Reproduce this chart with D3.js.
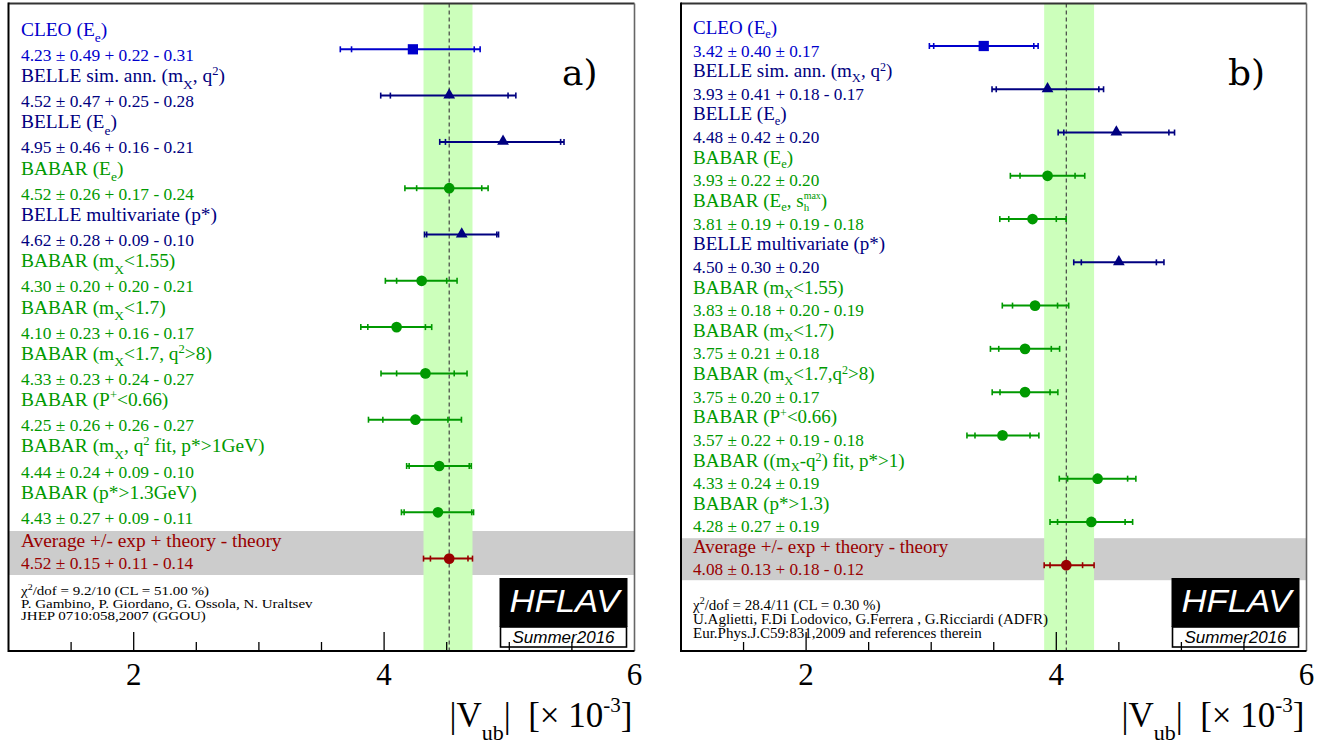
<!DOCTYPE html>
<html>
<head>
<meta charset="utf-8">
<script src="https://cdn.jsdelivr.net/npm/d3@7"></script>
<style>
  html, body { margin: 0; padding: 0; background: #fff; }
  svg { display: block; }
  text { white-space: pre; }
</style>
</head>
<body>
<svg id="chart" width="1328" height="745"></svg>
<script>
// ---------------- DATA ----------------
// Panel a) (GGOU)
const namesA = [
  "CLEO (E_{e})",
  "BELLE sim. ann. (m_{X}, q^{2})",
  "BELLE (E_{e})",
  "BABAR (E_{e})",
  "BELLE multivariate (p*)",
  "BABAR (m_{X}<1.55)",
  "BABAR (m_{X}<1.7)",
  "BABAR (m_{X}<1.7, q^{2}>8)",
  "BABAR (P^{+}<0.66)",
  "BABAR (m_{X}, q^{2} fit, p*>1GeV)",
  "BABAR (p*>1.3GeV)"
];
const expA     = ["CLEO","BELLE","BELLE","BABAR","BELLE","BABAR","BABAR","BABAR","BABAR","BABAR","BABAR"];
const valueA   = [4.23, 4.52, 4.95, 4.52, 4.62, 4.30, 4.10, 4.33, 4.25, 4.44, 4.43];
const statA    = [0.49, 0.47, 0.46, 0.26, 0.28, 0.20, 0.23, 0.23, 0.26, 0.24, 0.27];
const sysPlusA = [0.22, 0.25, 0.16, 0.17, 0.09, 0.20, 0.16, 0.24, 0.26, 0.09, 0.09];
const sysMinA  = [0.31, 0.28, 0.21, 0.24, 0.10, 0.21, 0.17, 0.27, 0.27, 0.10, 0.11];
const avgA = [4.52, 0.15, 0.11, 0.14];   // value, exp, +theory, -theory
const footerA = ["χ^{2}/dof = 9.2/10 (CL = 51.00 %)",
                 "P. Gambino, P. Giordano, G. Ossola, N. Uraltsev",
                 "JHEP 0710:058,2007 (GGOU)"];

// Panel b) (ADFR)
const namesB = [
  "CLEO (E_{e})",
  "BELLE sim. ann. (m_{X}, q^{2})",
  "BELLE (E_{e})",
  "BABAR (E_{e})",
  "BABAR (E_{e}, s_{h}^{max})",
  "BELLE multivariate (p*)",
  "BABAR (m_{X}<1.55)",
  "BABAR (m_{X}<1.7)",
  "BABAR (m_{X}<1.7,q^{2}>8)",
  "BABAR (P^{+}<0.66)",
  "BABAR ((m_{X}-q^{2}) fit, p*>1)",
  "BABAR (p*>1.3)"
];
const expB     = ["CLEO","BELLE","BELLE","BABAR","BABAR","BELLE","BABAR","BABAR","BABAR","BABAR","BABAR","BABAR"];
const valueB   = [3.42, 3.93, 4.48, 3.93, 3.81, 4.50, 3.83, 3.75, 3.75, 3.57, 4.33, 4.28];
const statB    = [0.40, 0.41, 0.42, 0.22, 0.19, 0.30, 0.18, 0.21, 0.20, 0.22, 0.24, 0.27];
const sysPlusB = [0.17, 0.18, 0.20, 0.20, 0.19, 0.20, 0.20, 0.18, 0.17, 0.19, 0.19, 0.19];
const sysMinB  = [0.17, 0.17, 0.20, 0.20, 0.18, 0.20, 0.19, 0.18, 0.17, 0.18, 0.19, 0.19];
const avgB = [4.08, 0.13, 0.18, 0.12];
const footerB = ["χ^{2}/dof = 28.4/11 (CL = 0.30 %)",
                 "U.Aglietti, F.Di Lodovico, G.Ferrera , G.Ricciardi (ADFR)",
                 "Eur.Phys.J.C59:831,2009 and references therein"];

const xDomain = [1, 6];
const tickLabels = ["2", "4", "6"];
const avgLabel = "Average +/- exp + theory - theory";
const axisTitle = "|V_{ub}|  [× 10^{-3}]";

// ---------------- STYLE ----------------
const expColor = { CLEO: "#0000cc", BELLE: "#000080", BABAR: "#009900", AVG: "#990000" };
const expSymbol = { CLEO: d3.symbolSquare, BELLE: d3.symbolTriangle, BABAR: d3.symbolCircle, AVG: d3.symbolCircle };
const expSymSize = { CLEO: 105, BELLE: 60, BABAR: 90, AVG: 90 };
const SERIF = "'Liberation Serif', 'Times New Roman', serif";
const SANS = "'Liberation Sans', Arial, sans-serif";

const svg = d3.select("#chart");

// --- mini TeX-like rich text: _{..} subscript, ^{..} superscript ---
function parseRich(str) {
  const out = [];
  let i = 0, buf = "";
  while (i < str.length) {
    const c = str[i];
    if ((c === "_" || c === "^") && str[i + 1] === "{") {
      if (buf) { out.push({ t: "n", s: buf }); buf = ""; }
      const end = str.indexOf("}", i + 2);
      out.push({ t: c === "_" ? "sub" : "sup", s: str.slice(i + 2, end) });
      i = end + 1;
    } else { buf += c; i++; }
  }
  if (buf) out.push({ t: "n", s: buf });
  return out;
}
function richText(sel, str, opt) {
  const o = Object.assign({ subSize: 14, supSize: 13, subShift: 7, supShift: 7 }, opt || {});
  const toks = parseRich(str);
  // mark stacked sub+sup pairs
  toks.forEach((tk, k) => {
    if (tk.t === "sub" && toks[k + 1] && toks[k + 1].t === "sup") { tk.stack = true; toks[k + 1].stack = true; }
  });
  let cur = 0;
  let lastSub = null;
  toks.forEach((tk, k) => {
    let target = 0, size = null;
    if (tk.t === "sub") { target = o.subShift; size = tk.stack ? (o.stackSub || o.subSize) : o.subSize; }
    if (tk.t === "sup") {
      target = -(tk.stack ? (o.stackSupShift || o.supShift) : o.supShift);
      size = tk.stack ? (o.stackSup || o.supSize) : o.supSize;
    }
    const ts = sel.append("tspan").text(tk.s).attr("dy", target - cur);
    if (size) ts.attr("font-size", size);
    if (tk.t === "sup" && tk.stack && lastSub) {
      ts.attr("dx", -lastSub.node().getComputedTextLength());
    }
    lastSub = tk.t === "sub" ? ts : null;
    cur = target;
  });
  return sel;
}
function fmt(v) { return v.toFixed(2); }
function valueText(v, s, p, m) {
  return fmt(v) + " ± " + fmt(s) + (p === m ? " ± " + fmt(p) : " + " + fmt(p) + " - " + fmt(m));
}

function drawPanel(cfg) {
  const g = svg.append("g");
  const { x0, x1, y0, y1 } = cfg;
  const x = d3.scaleLinear().domain(xDomain).range([x0, x1]);
  const n = cfg.names.length;
  const y = d3.scaleLinear().domain([0, n]).range([cfg.yFirst, cfg.yAvg]);

  const rows = cfg.names.map((nm, i) => ({
    name: nm, exp: cfg.exp[i], v: cfg.value[i], s: cfg.stat[i], p: cfg.sysPlus[i], m: cfg.sysMin[i], i
  }));
  const avg = { name: avgLabel, exp: "AVG", v: cfg.avg[0], s: cfg.avg[1], p: cfg.avg[2], m: cfg.avg[3], i: n };
  const all = rows.concat([avg]);
  all.forEach(d => {
    d.tp = Math.hypot(d.s, d.p);
    d.tm = Math.hypot(d.s, d.m);
  });

  g.append("rect").attr("x", x0).attr("y", y0).attr("width", x1 - x0).attr("height", y1 - y0).attr("fill", "#fff");

  // gray average band
  g.append("rect").attr("x", x0).attr("width", x1 - x0)
    .attr("y", y(n) - cfg.grayUp).attr("height", cfg.grayUp + cfg.grayDown)
    .attr("fill", "#cccccc");

  // green average band
  g.append("rect").attr("x", x(avg.v - avg.tm)).attr("width", x(avg.v + avg.tp) - x(avg.v - avg.tm))
    .attr("y", y0).attr("height", y1 - y0).attr("fill", "#ccffbb");

  // dashed average line
  g.append("line").attr("x1", x(avg.v)).attr("x2", x(avg.v)).attr("y1", y0).attr("y2", y1)
    .attr("stroke", "#444").attr("stroke-width", 1.2).attr("stroke-dasharray", "4,3");

  // error bars
  const eb = g.selectAll("g.eb").data(all).enter().append("g")
    .attr("transform", d => `translate(0,${y(d.i)})`);
  eb.append("line").attr("x1", d => x(d.v - d.tm)).attr("x2", d => x(d.v + d.tp))
    .attr("stroke", d => expColor[d.exp]).attr("stroke-width", 2);
  eb.each(function (d) {
    const gg = d3.select(this);
    [d.v - d.s, d.v + d.s, d.v - d.tm, d.v + d.tp].forEach(t => {
      gg.append("line").attr("x1", x(t)).attr("x2", x(t)).attr("y1", -3).attr("y2", 3)
        .attr("stroke", expColor[d.exp]).attr("stroke-width", 1.6);
    });
  });
  eb.append("path")
    .attr("d", d => d3.symbol().type(expSymbol[d.exp]).size(expSymSize[d.exp])())
    .attr("transform", d => `translate(${x(d.v)},${d.exp === "BELLE" ? -0.5 : 0})`)
    .attr("fill", d => expColor[d.exp]);

  // labels
  all.forEach(d => {
    const yy = y(d.i);
    const isAvg = d.exp === "AVG";
    richText(g.append("text").attr("x", cfg.textX).attr("y", yy - (isAvg ? 12 : cfg.nameOff))
      .attr("font-family", SERIF).attr("font-size", cfg.nameSize).attr("fill", expColor[d.exp]), d.name,
      cfg.scriptOpt);
    g.append("text").attr("x", cfg.textX).attr("y", yy + (isAvg ? cfg.avgValOff : cfg.valOff))
      .attr("font-family", SERIF).attr("font-size", cfg.valSize).attr("fill", expColor[d.exp])
      .text(valueText(d.v, d.s, d.p, d.m));
  });

  // footer
  cfg.footer.forEach((f, k) => {
    const fg = g.append("g")
      .attr("transform", `translate(${cfg.textX},${cfg.footY + k * cfg.footStep}) scale(1,${cfg.footScale})`);
    richText(fg.append("text").attr("x", 0).attr("y", 0)
      .attr("font-family", SERIF).attr("font-size", 15).attr("fill", "#000"), f,
      { supSize: 10, supShift: 6 });
  });

  // panel tag
  g.append("text").attr("x", cfg.tagX).attr("y", 85).attr("font-family", "'DejaVu Serif', serif")
    .attr("font-size", 36).attr("fill", "#000").text(cfg.tag);

  // HFLAV logo
  const lx = x1 - 135, lw = 128;
  g.append("rect").attr("x", lx).attr("y", 578).attr("width", lw).attr("height", 49).attr("fill", "#000");
  g.append("rect").attr("x", lx + 1).attr("y", 627).attr("width", lw - 2).attr("height", 20)
    .attr("fill", "#fff").attr("stroke", "#000").attr("stroke-width", 1.6);
  g.append("text").attr("x", lx + 10).attr("y", 612).attr("font-family", SANS).attr("font-style", "italic")
    .attr("font-size", 31).attr("fill", "#fff").attr("textLength", 110).attr("lengthAdjust", "spacingAndGlyphs")
    .text("HFLAV");
  g.append("text").attr("x", lx + 13).attr("y", 643).attr("font-family", SANS).attr("font-style", "italic")
    .attr("font-size", 17).attr("fill", "#000").text("Summer2016");

  // x-axis ticks (inside, from bottom)
  const ticks = d3.range(3, 12).map(k => k / 2).filter(t => t > xDomain[0] && t < xDomain[1]);
  g.selectAll("line.tk").data(ticks).enter().append("line")
    .attr("x1", d => x(d)).attr("x2", d => x(d))
    .attr("y1", y1).attr("y2", d => y1 - (d % 2 === 0 ? 19 : 9))
    .attr("stroke", "#000").attr("stroke-width", 1.3);
  g.selectAll("text.tl").data(tickLabels).enter().append("text")
    .attr("x", d => x(+d)).attr("y", 685).attr("text-anchor", "middle")
    .attr("font-family", SERIF).attr("font-size", 31).attr("fill", "#000").text(d => d);

  // axis title
  richText(g.append("text").attr("x", x1 - 2).attr("y", 727).attr("text-anchor", "end")
    .attr("font-family", SERIF).attr("font-size", 35).attr("fill", "#000"), axisTitle,
    { subSize: 22, subShift: 13, supSize: 21, supShift: 15 });

  // frame
  g.append("line").attr("x1", x0).attr("x2", x1).attr("y1", y0).attr("y2", y0).attr("stroke", "#333").attr("stroke-width", 2);
  g.append("line").attr("x1", x1).attr("x2", x1).attr("y1", y0).attr("y2", y1).attr("stroke", "#666").attr("stroke-width", 1.6);
  g.append("line").attr("x1", x0).attr("x2", x0).attr("y1", y0 - 1).attr("y2", y1 + 1).attr("stroke", "#000").attr("stroke-width", 2);
  g.append("line").attr("x1", x0).attr("x2", x1).attr("y1", y1).attr("y2", y1).attr("stroke", "#000").attr("stroke-width", 2);
}

drawPanel({
  x0: 8.5, x1: 634.5, y0: 3.5, y1: 651,
  names: namesA, exp: expA, value: valueA, stat: statA, sysPlus: sysPlusA, sysMin: sysMinA, avg: avgA,
  yFirst: 49.3, yAvg: 558.6, grayUp: 27.6, grayDown: 16.4,
  textX: 21, nameOff: 13.6, valOff: 11.5, avgValOff: 10.5, nameSize: 19.4, valSize: 17.4,
  scriptOpt: { subSize: 13.5, supSize: 12.5, subShift: 6.5, supShift: 7 },
  footer: footerA, footY: 595, footStep: 12.7, footScale: 0.8,
  tag: "a)", tagX: 562
});
drawPanel({
  x0: 681, x1: 1306.5, y0: 3.5, y1: 651,
  names: namesB, exp: expB, value: valueB, stat: statB, sysPlus: sysPlusB, sysMin: sysMinB, avg: avgB,
  yFirst: 46, yAvg: 565.2, grayUp: 27, grayDown: 15,
  textX: 693, nameOff: 12.1, valOff: 10.5, avgValOff: 10, nameSize: 19, valSize: 17.2,
  scriptOpt: { subSize: 12.5, supSize: 12, subShift: 4.5, supShift: 6,
               stackSub: 11, stackSup: 10, stackSupShift: 7.6 },
  footer: footerB, footY: 610, footStep: 14, footScale: 1,
  tag: "b)", tagX: 1228
});
</script>
</body>
</html>
